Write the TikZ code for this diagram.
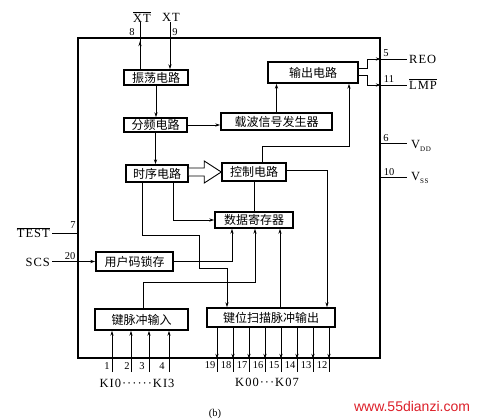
\documentclass[tikz,border=0pt]{standalone}
\usepackage{fontspec}
\setmainfont{Liberation Serif}
\newfontfamily\cjk{Noto Sans CJK SC}
\newfontfamily\wmfont{Liberation Sans}
\newfontfamily\sigfont[LetterSpace=8]{Liberation Serif}
\usetikzlibrary{arrows.meta,calc}
\begin{document}
\begin{tikzpicture}[x=1pt,y=-1pt,
  box/.style={draw,line width=1.5pt,inner sep=0pt,font=\cjk\fontsize{12}{12}\selectfont},
  wire/.style={line width=0.7pt},
  arr/.style={wire,-{Stealth[length=5pt,width=3.2pt]}},
  pin/.style={font=\fontsize{10.5}{10.5}\selectfont,inner sep=0pt},
  sig/.style={font=\sigfont\fontsize{12.5}{12.5}\selectfont,inner sep=0pt}]
\useasboundingbox (0,0) rectangle (486,419);
% chip outline
\node[draw,line width=1.6pt,minimum width=302pt,minimum height=320pt,inner sep=0pt] (chip) at (229,198) {};
% blocks
\node[box,minimum width=64pt,minimum height=15pt] (osc) at (156,77.5) {振荡电路};
\node[box,minimum width=63pt,minimum height=14pt] (div) at (155.5,125) {分频电路};
\node[box,minimum width=111pt,minimum height=17pt] (car) at (276.5,121.5) {载波信号发生器};
\node[box,minimum width=90pt,minimum height=21pt] (out) at (313,72.5) {输出电路};
\node[box,minimum width=62pt,minimum height=17pt] (tim) at (157,173.5) {时序电路};
\node[box,minimum width=64pt,minimum height=18pt] (ctrl) at (254,172) {控制电路};
\node[box,minimum width=78pt,minimum height=16pt] (data) at (254,220) {数据寄存器};
\node[box,minimum width=77pt,minimum height=19pt] (latch) at (134.5,261.5) {用户码锁存};
\node[box,minimum width=93pt,minimum height=21pt] (keyin) at (141.5,319.5) {键脉冲输入};
\node[box,minimum width=128pt,minimum height=19pt] (scan) at (271,317.5) {键位扫描脉冲输出};
% crystal pins
\coordinate (xt8) at (140,22);
\coordinate (xt9) at (170,22);
\draw[wire] (osc.north -| xt8) -- (xt8);
\draw[arr] (osc.north -| xt8) -- ($(xt8 |- chip.north)+(0,4)$);
\draw[arr] (xt9) -- (osc.north -| xt9);
\node[sig] at (142,17) {$\overline{\mbox{XT}}$};
\node[sig] at (171,17) {XT};
\node[pin] at (132,32) {8};
\node[pin] at (175,32) {9};
% internal connections
\draw[arr] (osc.south) -- (osc.south |- div.north);
\draw[arr] (div.east) -- (div.east -| car.west);
\draw[arr] (div.south) -- (div.south |- tim.north);
\draw[arr] (car.north) -- (car.north |- out.south);
\draw[arr] ($(ctrl.north)+(8,0)$) -- ++(0,-16) -| ($(out.south)+(36,0)$);
\draw[line width=0.9pt,fill=white] ($(tim.east |- ctrl.west)+(0,-4)$) -- ($(ctrl.west)+(-17,-4)$) -- ($(ctrl.west)+(-17,-11)$) -- (ctrl.west) -- ($(ctrl.west)+(-17,11)$) -- ($(ctrl.west)+(-17,4)$) -- ($(tim.east |- ctrl.west)+(0,4)$);
\draw[wire] (ctrl.south) -- (ctrl.south |- data.north);
\draw[arr] ($(ctrl.east)+(0,-2)$) -| ($(scan.north)+(56,0)$);
\draw[arr] ($(tim.south)+(16,0)$) |- (data.west);
\draw[arr] ($(tim.south)+(-15,0)$) -- ++(0,53) -- ++(57,0) -- ++(0,33) -| ($(scan.north)+(-44,0)$);
\draw[arr] (latch.east) -| ($(data.south)+(-22,0)$);
\draw[arr] ($(keyin.north)+(1.5,0)$) -- ++(0,-26) -| ($(data.south)+(1,0)$);
\draw[arr] ($(scan.north)+(9,0)$) -- ($(data.south)+(26,0)$);
% output pins
\coordinate (reo) at (407,59);
\coordinate (lmp) at (407,85);
\coordinate (vdd) at (407,143);
\coordinate (vss) at (407,177);
\draw[arr] ($(out.east)+(0,-4.5)$) -- ++(9,0) |- (chip.east |- reo);
\draw[wire] (chip.east |- reo) -- (reo);
\draw[arr] ($(out.east)+(0,2.5)$) -- ++(9,0) |- (chip.east |- lmp);
\draw[wire] (chip.east |- lmp) -- (lmp);
\draw[wire] (chip.east |- vdd) -- (vdd);
\draw[wire] (chip.east |- vss) -- (vss);
\node[pin] at (386,53) {5};
\node[pin] at (389,79) {11};
\node[pin] at (386,138) {6};
\node[pin] at (389,172) {10};
\node[sig,anchor=west] at (409,59) {REO};
\node[sig,anchor=west] at (409,84) {$\overline{\mbox{LMP}}$};
\node[sig,anchor=west] at (411,146) {V\raisebox{-2.5pt}{\fontsize{7}{7}\selectfont DD}};
\node[sig,anchor=west] at (411,178) {V\raisebox{-2.5pt}{\fontsize{7}{7}\selectfont SS}};
% left pins
\coordinate (test) at (52,233);
\coordinate (scs) at (52,261.5);
\draw[wire] (test) -- (test -| chip.west);
\draw[arr] (scs) -- (scs -| latch.west);
\node[sig,anchor=base east] at (50,237.5) {$\overline{\mbox{TEST}}$};
\node[sig,anchor=base east] at (50,266.5) {SCS};
\node[pin] at (73,225) {7};
\node[pin] at (70,256) {20};
% key input pins
\foreach \n/\x/\d in {1/112/5,2/131/4,3/149/7,4/169/7}{
  \coordinate (ki\n) at (\x,372);
  \draw[arr] (ki\n) -- (ki\n |- keyin.south);
  \node[pin] at ($(ki\n)+(-\d,-6)$) {\n};
}
\node[sig] at (137,383) {KI0······KI3};
% key scan output pins
\foreach \n/\x in {19/217,18/233,17/249,16/265,15/281,14/297,13/313,12/329}{
  \coordinate (ko\n) at (\x,372);
  \draw[arr] (ko\n |- scan.south) -- (ko\n |- chip.south);
  \draw[wire] (ko\n |- chip.south) -- (ko\n);
  \node[pin] at ($(ko\n)+(-7,-7)$) {\n};
}
\node[sig] at (267,382) {K00···K07};
\node[pin] at (215,414) {(b)};
\node[font=\wmfont\fontsize{14}{14}\selectfont,text={rgb,255:red,220;green,30;blue,40},inner sep=0pt] at (412,406) {www.55dianzi.com};
\end{tikzpicture}
\end{document}
